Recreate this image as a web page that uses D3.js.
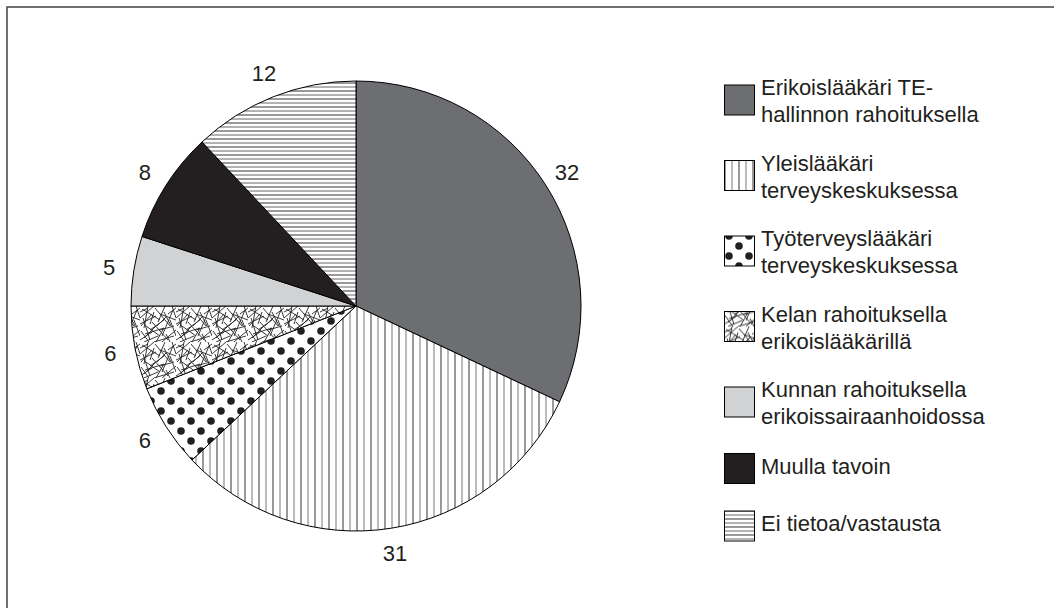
<!DOCTYPE html>
<html>
<head>
<meta charset="utf-8">
<script src="https://cdn.jsdelivr.net/npm/d3@7"></script>
<style>
  body { margin: 0; background: #fff; }
  text { font-family: "Liberation Sans", Arial, sans-serif; fill: #231f20; }
</style>
</head>
<body>
<div id="chart"></div>
<script>
// data (share of respondents, %)
var categories = [
  "Erikoislääkäri TE-|hallinnon rahoituksella",
  "Yleislääkäri|terveyskeskuksessa",
  "Työterveyslääkäri|terveyskeskuksessa",
  "Kelan rahoituksella|erikoislääkärillä",
  "Kunnan rahoituksella|erikoissairaanhoidossa",
  "Muulla tavoin",
  "Ei tietoa/vastausta"
];
var values = [32, 31, 6, 6, 5, 8, 12];
var fills = ["#6d6e71", "url(#vlines)", "url(#dots)", "url(#scribble)", "#d1d2d4", "#231f20", "url(#hlines)"];

var width = 1054, height = 608,
    cx = 356, cy = 306,
    radius = 225,
    labelRadius = 250;

var svg = d3.select("#chart").append("svg")
    .attr("width", width)
    .attr("height", height);

// frame (only top and left edges fall inside the picture)
svg.append("rect")
    .attr("x", 7).attr("y", 7)
    .attr("width", 1200).attr("height", 800)
    .attr("fill", "none")
    .attr("stroke", "#4d4d4d")
    .attr("stroke-width", 1.6);

var defs = svg.append("defs");

// vertical lines
var pv = defs.append("pattern").attr("id", "vlines")
    .attr("patternUnits", "userSpaceOnUse").attr("width", 14).attr("height", 10);
pv.append("rect").attr("width", 14).attr("height", 10).attr("fill", "#fff");
pv.append("line").attr("x1", 1).attr("x2", 1).attr("y1", 0).attr("y2", 10).attr("stroke", "#333").attr("stroke-width", 1);
pv.append("line").attr("x1", 8).attr("x2", 8).attr("y1", 0).attr("y2", 10).attr("stroke", "#777").attr("stroke-width", 1);

// horizontal lines
var ph = defs.append("pattern").attr("id", "hlines")
    .attr("patternUnits", "userSpaceOnUse").attr("width", 10).attr("height", 8);
ph.append("rect").attr("width", 10).attr("height", 8).attr("fill", "#fff");
ph.append("line").attr("x1", 0).attr("x2", 10).attr("y1", 1).attr("y2", 1).attr("stroke", "#333").attr("stroke-width", 1);
ph.append("line").attr("x1", 0).attr("x2", 10).attr("y1", 5).attr("y2", 5).attr("stroke", "#666").attr("stroke-width", 1);

// dots
var pd = defs.append("pattern").attr("id", "dots")
    .attr("patternUnits", "userSpaceOnUse").attr("width", 20).attr("height", 20);
pd.append("rect").attr("width", 20).attr("height", 20).attr("fill", "#fff");
pd.append("circle").attr("cx", 5).attr("cy", 5).attr("r", 3.8).attr("fill", "#231f20");
pd.append("circle").attr("cx", 15).attr("cy", 15).attr("r", 3.8).attr("fill", "#231f20");

// scribble texture (decoration only)
var scribble = [
  [2,3,20,14],[8,0,4,22],[15,2,30,20],[25,0,18,16],[33,4,22,30],[0,18,16,10],
  [5,28,24,22],[12,16,28,34],[30,14,36,30],[20,24,34,20],[0,34,12,26],[26,28,30,36],
  [3,12,10,34],[18,30,4,36],[28,8,36,2],[14,6,10,18],[22,36,36,24],[0,6,8,2],
  [17,20,27,10],[6,20,20,30],[31,20,24,6],[9,36,1,25],[0,12,14,0],[20,8,36,14],
  [10,24,24,14],[14,36,34,30],[1,20,12,8],[24,22,16,36],[32,0,36,12],[4,32,16,20]
];
var ps = defs.append("pattern").attr("id", "scribble")
    .attr("patternUnits", "userSpaceOnUse").attr("width", 36).attr("height", 36);
ps.append("rect").attr("width", 36).attr("height", 36).attr("fill", "#fff");
ps.selectAll("line").data(scribble).enter().append("line")
    .attr("x1", function(d) { return d[0]; })
    .attr("y1", function(d) { return d[1]; })
    .attr("x2", function(d) { return d[2]; })
    .attr("y2", function(d) { return d[3]; })
    .attr("stroke", "#222")
    .attr("stroke-width", 0.9);

// pie
var pie = d3.pie().sort(null).value(function(d) { return d; });
var arcs = pie(values);

var arc = d3.arc().innerRadius(0).outerRadius(radius);
var labelArc = d3.arc().innerRadius(labelRadius).outerRadius(labelRadius);

var g = svg.append("g").attr("transform", "translate(" + cx + "," + cy + ")");

g.selectAll("path")
  .data(arcs)
  .enter()
  .append("path")
    .attr("d", arc)
    .attr("fill", function(d, i) { return fills[i]; })
    .attr("stroke", "#000")
    .attr("stroke-width", 1)
    .attr("stroke-linejoin", "round");

g.selectAll("text.val")
  .data(arcs)
  .enter()
  .append("text")
    .attr("class", "val")
    .attr("transform", function(d) { return "translate(" + labelArc.centroid(d) + ")"; })
    .attr("text-anchor", "middle")
    .attr("dy", "0.36em")
    .style("font-size", "22px")
    .text(function(d) { return d.value; });

// legend
var legend = svg.append("g").attr("transform", "translate(724,0)");
var lineH = 27, sw = 30;
var centers = [], y = 100;
categories.forEach(function(c, i) {
  centers.push(y);
  if (i < categories.length - 1) {
    var a = c.split("|").length, b = categories[i + 1].split("|").length;
    y += 57.5 + 9 * ((a - 1) + (b - 1));
  }
});

var items = legend.selectAll("g.item")
  .data(categories)
  .enter()
  .append("g")
    .attr("class", "item")
    .attr("transform", function(d, i) { return "translate(0," + centers[i] + ")"; });

items.append("rect")
    .attr("x", 0.5).attr("y", -sw / 2)
    .attr("width", sw).attr("height", sw)
    .attr("fill", function(d, i) { return fills[i]; })
    .attr("stroke", "#000")
    .attr("stroke-width", 1);

items.each(function(d) {
  var lines = d.split("|");
  var t = d3.select(this).append("text")
      .attr("x", 37)
      .style("font-size", "22px");
  lines.forEach(function(l, k) {
    var base = lines.length === 1 ? 5 : -5 + k * lineH;
    t.append("tspan").attr("x", 37).attr("y", base).text(l);
  });
});
</script>
</body>
</html>
